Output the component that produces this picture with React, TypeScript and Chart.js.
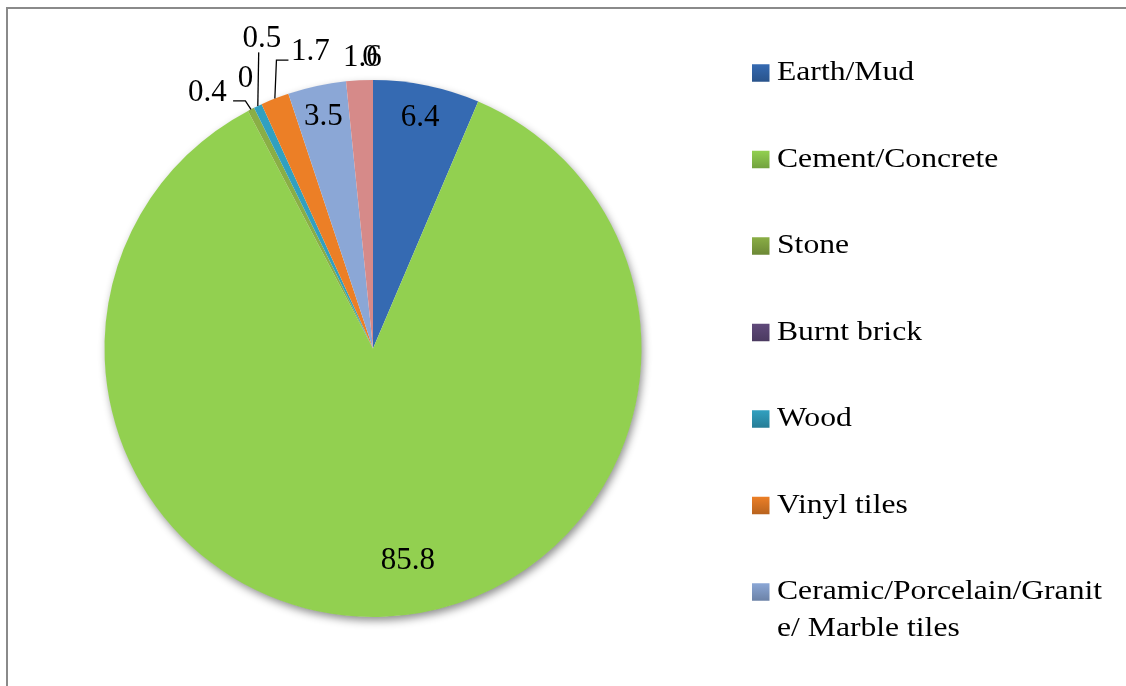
import React, { useEffect, useRef } from "react";
import { Chart, registerables } from "chart.js";

Chart.register(...registerables);

// ---------- data ----------
const categories = [
  "Earth/Mud",
  "Cement/Concrete",
  "Stone",
  "Burnt brick",
  "Wood",
  "Vinyl tiles",
  "Ceramic/Porcelain/Granite/ Marble tiles",
  "Terrazzo",
  "Others",
];
const shares = [6.4, 85.8, 0.4, 0, 0.5, 1.7, 3.5, 1.6, 0];
const valueLabels = ["6.4", "85.8", "0.4", "0", "0.5", "1.7", "3.5", "1.6", "0"];
const sliceColors = [
  "#356AB2",
  "#92D050",
  "#8AAE45",
  "#604A7B",
  "#31A0C0",
  "#EC7F26",
  "#8BA7D6",
  "#D68A89",
  "#B3A2C7",
];

// ---------- label layout (text placement, not data) ----------
type Placement =
  | { mode: "inside"; f: number; dA?: number }
  | { mode: "outside"; dx: number; dy: number; leader?: number[][] };

const labelPlacement: Placement[] = [
  { mode: "inside", f: 0.878 },
  { mode: "inside", f: 0.8, dA: -7 },
  { mode: "outside", dx: -43.6, dy: -16, leader: [[-5.6, -8.4], [-17.9, -8.4]] },
  { mode: "outside", dx: -8.6, dy: -28.5 },
  { mode: "outside", dx: 4, dy: -67.6, leader: [[0.9, -53.6]] },
  { mode: "outside", dx: 35.6, dy: -46.7, leader: [[1.6, -38.5], [13.6, -38.5]] },
  { mode: "inside", f: 0.882 },
  { mode: "outside", dx: 3, dy: -22 },
  { mode: "outside", dx: -3, dy: -22 },
];

const FONT = '"Liberation Serif", "Times New Roman", serif';
const labelFontSize = 31;
const legendLayout = {
  boxX: 752,
  boxSize: 17.5,
  textX: 777,
  firstY: 73,
  step: 86.5,
  lineH: 37,
  maxW: 332,
  fontSize: 28,
  scaleX: 1.13,
};

function darken(hex: string, k: number) {
  const n = parseInt(hex.slice(1), 16);
  const r = Math.round(((n >> 16) & 255) * k);
  const g = Math.round(((n >> 8) & 255) * k);
  const b = Math.round((n & 255) * k);
  return `rgb(${r},${g},${b})`;
}

function wrapText(ctx: CanvasRenderingContext2D, text: string, maxW: number, sx: number) {
  const w = (s: string) => ctx.measureText(s).width * sx;
  const lines: string[] = [];
  let cur = "";
  const words = text.split(" ");
  words.forEach((word, wi) => {
    const piece = (wi > 0 ? " " : "") + word;
    if (w(cur + piece) <= maxW) {
      cur += piece;
      return;
    }
    if (cur && w(word) <= maxW) {
      lines.push(cur);
      cur = word;
      return;
    }
    // break by characters
    for (const ch of piece) {
      if (w(cur + ch) > maxW && cur) {
        lines.push(cur);
        cur = ch === " " ? "" : ch;
      } else {
        cur += ch;
      }
    }
  });
  if (cur) lines.push(cur);
  return lines;
}

const framePlugin = {
  id: "frame",
  beforeDraw(chart: any) {
    const ctx = chart.ctx as CanvasRenderingContext2D;
    ctx.save();
    ctx.fillStyle = "#ffffff";
    ctx.fillRect(0, 0, chart.width, chart.height);
    ctx.strokeStyle = "#8a8a8a";
    ctx.lineWidth = 2;
    ctx.beginPath();
    ctx.moveTo(7, chart.height + 10);
    ctx.lineTo(7, 8);
    ctx.lineTo(chart.width + 10, 8);
    ctx.stroke();
    ctx.restore();
  },
  beforeDatasetsDraw(chart: any) {
    const meta = chart.getDatasetMeta(0);
    const arc = meta.data[0];
    if (!arc) return;
    const { x, y, outerRadius } = arc.getProps(["x", "y", "outerRadius"], true);
    const ctx = chart.ctx as CanvasRenderingContext2D;
    ctx.save();
    ctx.shadowColor = "rgba(0,0,0,0.45)";
    ctx.shadowBlur = 8;
    ctx.shadowOffsetX = 2;
    ctx.shadowOffsetY = 4;
    ctx.fillStyle = "#ffffff";
    ctx.beginPath();
    ctx.arc(x, y, outerRadius - 0.5, 0, Math.PI * 2);
    ctx.fill();
    ctx.restore();
  },
};

const labelsPlugin = {
  id: "valueLabels",
  afterDatasetsDraw(chart: any) {
    const ctx = chart.ctx as CanvasRenderingContext2D;
    const meta = chart.getDatasetMeta(0);
    ctx.save();
    ctx.font = `${labelFontSize}px ${FONT}`;
    ctx.fillStyle = "#000";
    ctx.textAlign = "center";
    ctx.textBaseline = "middle";
    ctx.strokeStyle = "#000";
    ctx.lineWidth = 1.3;
    meta.data.forEach((el: any, i: number) => {
      const { x, y, startAngle, endAngle, outerRadius } = el.getProps(
        ["x", "y", "startAngle", "endAngle", "outerRadius"],
        true
      );
      const mid = (startAngle + endAngle) / 2;
      const p = labelPlacement[i];
      const text = valueLabels[i];
      if (p.mode === "inside") {
        const a = mid + ((p.dA || 0) * Math.PI) / 180;
        const r = outerRadius * p.f;
        ctx.fillText(text, x + Math.cos(a) * r, y + Math.sin(a) * r);
      } else {
        const ax = x + Math.cos(mid) * outerRadius;
        const ay = y + Math.sin(mid) * outerRadius;
        if (p.leader) {
          ctx.beginPath();
          ctx.moveTo(ax, ay);
          p.leader.forEach(([lx, ly]) => ctx.lineTo(ax + lx, ay + ly));
          ctx.stroke();
        }
        ctx.fillText(text, ax + p.dx, ay + p.dy);
      }
    });
    ctx.restore();
  },
  afterDraw(chart: any) {
    const ctx = chart.ctx as CanvasRenderingContext2D;
    const L = legendLayout;
    const labels: string[] = chart.data.labels;
    const colors: string[] = chart.data.datasets[0].backgroundColor;
    ctx.save();
    ctx.font = `${L.fontSize}px ${FONT}`;
    ctx.textAlign = "left";
    ctx.textBaseline = "middle";
    let yc = L.firstY;
    labels.forEach((lab, i) => {
      const g = ctx.createLinearGradient(0, yc - L.boxSize / 2, 0, yc + L.boxSize / 2);
      g.addColorStop(0, colors[i]);
      g.addColorStop(1, darken(colors[i], 0.78));
      ctx.fillStyle = g;
      ctx.fillRect(L.boxX, yc - L.boxSize / 2, L.boxSize, L.boxSize);
      ctx.fillStyle = "#000";
      const lines = wrapText(ctx, lab, L.maxW, L.scaleX);
      lines.forEach((ln, k) => {
        ctx.save();
        ctx.translate(L.textX, yc + k * L.lineH);
        ctx.scale(L.scaleX, 1);
        ctx.fillText(ln, 0, 0);
        ctx.restore();
      });
      yc += (lines.length - 1) * L.lineH + L.step;
    });
    ctx.restore();
  },
};

export default function App() {
  const canvasRef = useRef<HTMLCanvasElement | null>(null);

  useEffect(() => {
    const canvas = canvasRef.current;
    if (!canvas) return;
    const chart = new Chart(canvas, {
      type: "pie",
      data: {
        labels: categories,
        datasets: [
          {
            data: shares,
            backgroundColor: sliceColors,
            borderWidth: 0,
          },
        ],
      },
      options: {
        responsive: false,
        animation: false,
        devicePixelRatio: 1,
        layout: { padding: { left: 104, right: 484, top: 80, bottom: 69 } },
        plugins: {
          legend: { display: false },
          tooltip: { enabled: false },
        },
      },
      plugins: [framePlugin, labelsPlugin],
    });
    return () => chart.destroy();
  }, []);

  return (
    <div
      style={{
        position: "fixed",
        left: 0,
        top: 0,
        width: 1126,
        height: 686,
        overflow: "hidden",
        background: "#fff",
      }}
    >
      <canvas ref={canvasRef} width={1126} height={686} style={{ display: "block" }} />
    </div>
  );
}
